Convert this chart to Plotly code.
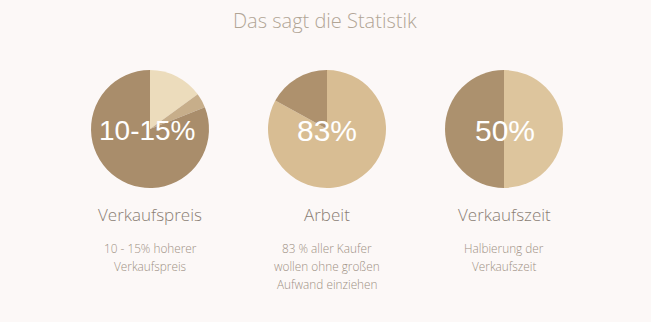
import plotly.graph_objects as go

# Share values per pie (clockwise from 12 o'clock)
preis_values = [15, 4, 81]
arbeit_values = [83, 17]
zeit_values = [50, 50]

preis_colors = ["#ecdcbc", "#c7ae8a", "#a98d6b"]
arbeit_colors = ["#d8bd93", "#ae916d"]
zeit_colors = ["#ddc59d", "#ac916e"]

center_labels = ["10-15%", "83%", "50%"]
titles = ["Verkaufspreis", "Arbeit", "Verkaufszeit"]
descriptions = [
    ["10 - 15% hoherer", "Verkaufspreis"],
    ["83 % aller Kaufer", "wollen ohne großen", "Aufwand einziehen"],
    ["Halbierung der", "Verkaufszeit"],
]

W, H = 651, 322
centers_x = [150, 327, 504]
center_y = 129
radius = 59

fig = go.Figure()
for cx, vals, cols in zip(centers_x,
                          [preis_values, arbeit_values, zeit_values],
                          [preis_colors, arbeit_colors, zeit_colors]):
    fig.add_trace(go.Pie(
        values=vals,
        marker=dict(colors=cols, line=dict(width=0)),
        sort=False,
        direction="clockwise",
        rotation=0,
        textinfo="none",
        hoverinfo="skip",
        showlegend=False,
        domain=dict(x=[(cx - radius) / W, (cx + radius) / W],
                    y=[1 - (center_y + radius) / H, 1 - (center_y - radius) / H]),
    ))

TEXT_FONT = "Open Sans"
annotations = [
    dict(text="Das sagt die Statistik", x=325 / W, y=1 - 20 / H,
         font=dict(size=20, color="#b1a595", family=TEXT_FONT, weight=300)),
]
for cx, lab, size, dx in zip(centers_x, center_labels, [28, 30, 30], [-3, 0, 1]):
    annotations.append(dict(text=lab, x=(cx + dx) / W, y=1 - (center_y + 1) / H,
                            font=dict(size=size, color="#ffffff", family="Liberation Sans")))
for cx, t in zip(centers_x, titles):
    annotations.append(dict(text=t, x=cx / W, y=1 - 214 / H,
                            font=dict(size=17, color="#8a7e74", family=TEXT_FONT, weight=300)))
for cx, lines in zip(centers_x, descriptions):
    for i, line in enumerate(lines):
        annotations.append(dict(text=line, x=cx / W, y=1 - (248 + 18 * i) / H,
                                font=dict(size=11.8, color="#9c9083", family=TEXT_FONT, weight=300)))

for a in annotations:
    a.setdefault("xref", "paper")
    a.setdefault("yref", "paper")
    a.setdefault("showarrow", False)
    a.setdefault("yanchor", "middle")
    a["xanchor"] = "center"

fig.update_layout(
    width=W, height=H,
    margin=dict(l=0, r=0, t=0, b=0),
    paper_bgcolor="#fcf8f7",
    plot_bgcolor="#fcf8f7",
    annotations=annotations,
)

fig.write_html("out.html")
